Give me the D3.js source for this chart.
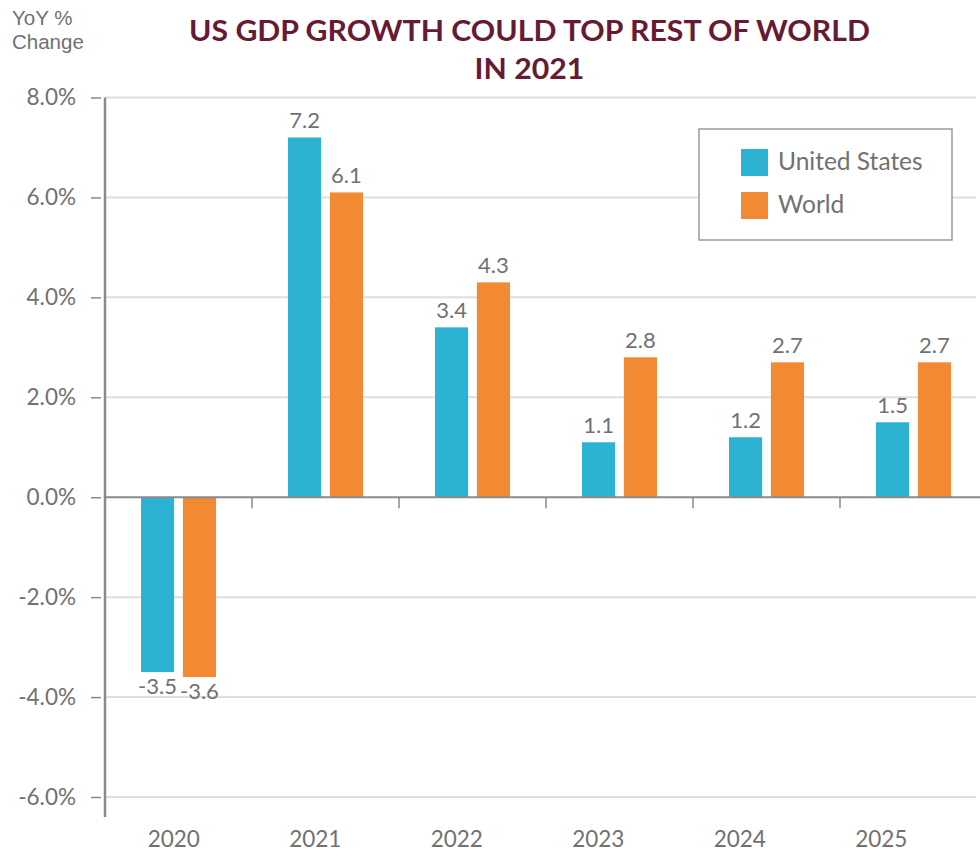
<!DOCTYPE html>
<html>
<head>
<meta charset="utf-8">
<script src="https://cdn.jsdelivr.net/npm/d3@7"></script>
<style>
  html, body { margin: 0; padding: 0; background: #fff; }
  svg { display: block; }
</style>
</head>
<body>
<svg id="chart" width="980" height="851"></svg>
<script>
// Annual real GDP growth, % change year over year
const years = ["2020", "2021", "2022", "2023", "2024", "2025"];
const seriesNames = ["United States", "World"];
const usGrowth = [-3.5, 7.2, 3.4, 1.1, 1.2, 1.5];
const worldGrowth = [-3.6, 6.1, 4.3, 2.8, 2.7, 2.7];
const yTicks = [-6, -4, -2, 0, 2, 4, 6, 8];
const titleLines = ["US GDP GROWTH COULD TOP REST OF WORLD", "IN 2021"];
const yAxisTitle = ["YoY %", "Change"];

const colors = { "United States": "#2cb3d4", "World": "#f28a33" };
const textGray = "#717171";
const bodyFont = "Lato, 'Open Sans', sans-serif";

// plain hyphen for negatives
const locale = d3.formatLocale({ decimal: ".", thousands: ",", grouping: [3], currency: ["$", ""], minus: "-" });
const fmt1 = locale.format(".1f");

const svg = d3.select("#chart");

const rows = years.map((yr, i) => ({
  year: yr,
  values: [
    { series: "United States", value: usGrowth[i] },
    { series: "World", value: worldGrowth[i] }
  ]
}));

// Scales
const y = d3.scaleLinear().domain([-6, 8]).range([797, 97.5]);
const x = d3.scaleBand().domain(years).range([105, 987]).paddingInner(0).paddingOuter(0);
const xLabel = d3.scaleBand().domain(years).range([103, 952]);
const xInner = d3.scaleBand().domain(seriesNames).range([x.bandwidth() / 2 - 37.5, x.bandwidth() / 2 + 37.5]).paddingInner(0.21);

// Gridlines
svg.append("g")
  .selectAll("line")
  .data(yTicks.filter(t => t !== 0))
  .join("line")
  .attr("x1", 105).attr("x2", 976)
  .attr("y1", d => y(d)).attr("y2", d => y(d))
  .attr("stroke", "#dedede").attr("stroke-width", 2);

// Y axis
const yAxis = svg.append("g")
  .attr("transform", "translate(105,0)")
  .call(d3.axisLeft(y).tickValues(yTicks).tickSize(14).tickPadding(15)
    .tickFormat(d => fmt1(d) + "%"));
yAxis.select(".domain").remove();
yAxis.selectAll(".tick line").attr("stroke", "#8a8a8a").attr("stroke-width", 1.5)
  .attr("x2", -4).attr("x1", -14);
yAxis.selectAll(".tick text").attr("fill", textGray)
  .style("font-size", "22.5px").style("font-family", bodyFont).style("font-weight", 400);
yAxis.append("line").attr("x1", 0).attr("x2", 0).attr("y1", y(8)).attr("y2", 817)
  .attr("stroke", "#8a8a8a").attr("stroke-width", 2.5);

// Bars
const groups = svg.append("g")
  .selectAll("g")
  .data(rows)
  .join("g")
  .attr("transform", d => `translate(${x(d.year)},0)`);

groups.selectAll("rect")
  .data(d => d.values)
  .join("rect")
  .attr("x", d => xInner(d.series))
  .attr("width", xInner.bandwidth())
  .attr("y", d => Math.min(y(d.value), y(0)))
  .attr("height", d => Math.abs(y(d.value) - y(0)))
  .attr("fill", d => colors[d.series]);

// Value labels
groups.selectAll("text")
  .data(d => d.values)
  .join("text")
  .attr("x", d => xInner(d.series) + xInner.bandwidth() / 2)
  .attr("y", d => d.value >= 0 ? y(d.value) - 9 : y(d.value) + 22)
  .attr("text-anchor", "middle")
  .style("font-size", "22px").style("font-family", bodyFont).style("font-weight", 400)
  .attr("fill", textGray)
  .text(d => fmt1(d.value));

// Zero line with category separators
svg.append("line")
  .attr("x1", 105).attr("x2", 980)
  .attr("y1", y(0)).attr("y2", y(0))
  .attr("stroke", "#8a8a8a").attr("stroke-width", 2);

svg.append("g")
  .selectAll("line")
  .data(years.slice(1))
  .join("line")
  .attr("x1", d => x(d)).attr("x2", d => x(d))
  .attr("y1", y(0)).attr("y2", y(0) + 11)
  .attr("stroke", "#8a8a8a").attr("stroke-width", 1.5);

// Category labels
const xAxis = svg.append("g")
  .attr("transform", "translate(0,826)")
  .call(d3.axisBottom(xLabel).tickSize(0).tickPadding(5));
xAxis.select(".domain").remove();
xAxis.selectAll(".tick text").attr("fill", textGray)
  .style("font-size", "22.5px").style("font-family", bodyFont).style("font-weight", 400);

// Title
const title = svg.append("g").attr("fill", "#661a33")
  .style("font-family", bodyFont).style("font-weight", 700);
const t1 = title.append("text")
  .attr("x", 529.5).attr("y", 41)
  .attr("text-anchor", "middle").style("font-size", "29px")
  .text(titleLines[0]);
const natural = t1.node().getComputedTextLength();
const squeeze = 681 / natural;
t1.attr("textLength", 681).attr("lengthAdjust", "spacingAndGlyphs");
const t2 = title.append("text")
  .attr("x", 529.5).attr("y", 79)
  .attr("text-anchor", "middle").style("font-size", "29px")
  .text(titleLines[1]);
t2.attr("textLength", t2.node().getComputedTextLength() * squeeze)
  .attr("lengthAdjust", "spacingAndGlyphs");

// Y axis title
svg.append("g")
  .selectAll("text")
  .data(yAxisTitle)
  .join("text")
  .attr("x", 12)
  .attr("y", (d, i) => 25 + i * 23.5)
  .style("font-family", "'Liberation Sans', Arial, sans-serif")
  .style("font-size", "20.5px")
  .attr("fill", textGray)
  .text(d => d);

// Legend
const legend = svg.append("g");
legend.append("rect")
  .attr("x", 699).attr("y", 129).attr("width", 253).attr("height", 111)
  .attr("fill", "#fff").attr("stroke", "#9a9a9a").attr("stroke-width", 1.5);
const items = legend.selectAll("g.item")
  .data(seriesNames)
  .join("g").attr("class", "item")
  .attr("transform", (d, i) => `translate(741,${149 + i * 43})`);
items.append("rect").attr("width", 27).attr("height", 27).attr("fill", d => colors[d]);
items.append("text").attr("x", 37).attr("y", 21)
  .style("font-size", "24.5px").style("font-family", bodyFont).style("font-weight", 400)
  .attr("fill", textGray).text(d => d);
</script>
</body>
</html>
